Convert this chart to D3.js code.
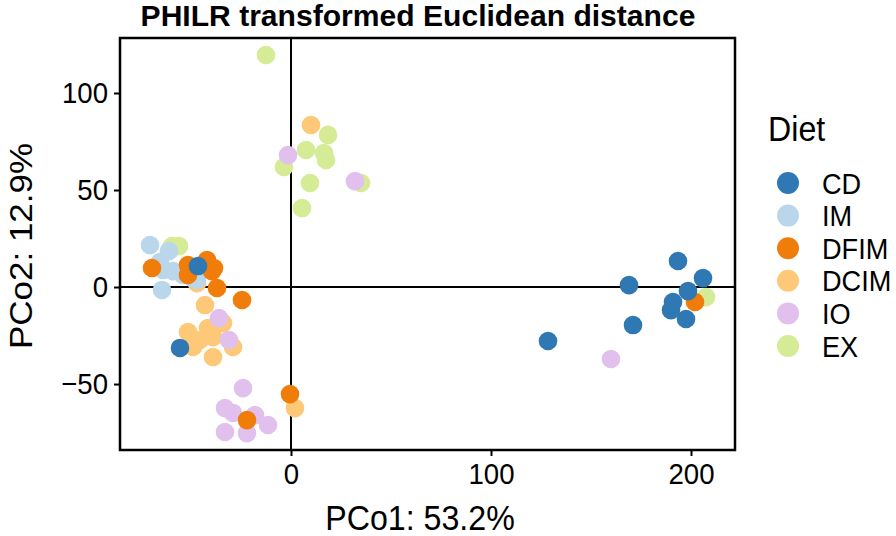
<!DOCTYPE html>
<meta charset="utf-8">
<script src="https://d3js.org/d3.v7.min.js"></script>
<style>
  body { margin: 0; background: white; }
  text { font-family: "Liberation Sans", Arial, sans-serif; fill: black; }
</style>
<div id="chart"></div>
<script>
  // diet groups and their colours
  const groups = ["CD", "IM", "DFIM", "DCIM", "IO", "EX"];
  const colors = ["#2f78b3", "#bad6ea", "#f07c0a", "#fdc877", "#e1c0ee", "#d6eb95"];

  // PCo1 / PCo2 coordinates, one list per group
  const cdPts = [[-46.5, 10.8], [-55.5, -31.4], [193.5, 13.4], [206, 4.6], [169, 1.0], [198.5, -2.1],
    [191, -7.7], [190, -11.9], [197.5, -16.5], [171, -19.6], [128.5, -27.8]];
  const imPts = [[-70.5, 21.6], [-61, 18.6], [-65.5, 12.9], [-64, 8.8], [-59, 8.2], [-64.5, -1.5],
    [-54, 6.2], [-49, 4.6], [-47, 3.6]];
  const dfimPts = [[-69.5, 9.8], [-51.5, 11.3], [-42, 13.9], [-39.5, 8.2], [-51.5, 6.2], [-38.5, 9.8],
    [-37, -0.5], [-24.5, -6.7], [-0.5, -55.2], [-22, -68.6], [202, -7.7]];
  const dcimPts = [[-43, -9.3], [-34, -18.6], [-51.5, -23.2], [-41.5, -21.1], [-45.5, -27.3], [-49, -30.9],
    [-39, -25.8], [-29, -30.9], [-39, -36.1], [2, -62.4], [10, 83.5], [-47, 2]];
  const ioPts = [[-36, -16.0], [-31, -27.3], [-24, -52.1], [-33, -62.4], [-29, -64.9], [-18, -66],
    [-11.5, -71.1], [-33, -74.7], [-22, -75.3], [-1.5, 68], [32, 54.6], [160, -37.1]];
  const exPts = [[-59.5, 21.1], [-56, 21.1], [-12.5, 119.6], [18.5, 78.4], [7.5, 70.6], [16.5, 69.1],
    [17.5, 65.5], [-3.5, 61.9], [9.5, 53.6], [35, 53.6], [5.5, 40.7], [207.5, -5.2]];

  const xTicks = [0, 100, 200];
  const yTicks = [-50, 0, 50, 100];

  const title = "PHILR transformed Euclidean distance";
  const xTitle = "PCo1: 53.2%";
  const yTitle = "PCo2: 12.9%";

  const width = 896, height = 536;
  const pLeft = 120, pRight = 735, pTop = 38, pBottom = 450;
  const sq = 0.92; // the picture's text is a little narrower than it is tall

  const svg = d3.select("#chart").append("svg")
    .attr("width", width)
    .attr("height", height);

  const x = d3.scaleLinear().domain([-85.5, 222]).range([pLeft, pRight]);
  const y = d3.scaleLinear().domain([-84, 128.35]).range([pBottom, pTop]);
  const color = d3.scaleOrdinal().domain(groups).range(colors);

  // zero lines
  svg.append("line")
    .attr("x1", x(0)).attr("x2", x(0)).attr("y1", pTop).attr("y2", pBottom)
    .attr("stroke", "black").attr("stroke-width", 2);
  svg.append("line")
    .attr("x1", pLeft).attr("x2", pRight).attr("y1", y(0)).attr("y2", y(0))
    .attr("stroke", "black").attr("stroke-width", 2);

  // points, drawn group by group
  const drawOrder = [["EX", exPts], ["DCIM", dcimPts], ["IO", ioPts], ["IM", imPts], ["DFIM", dfimPts], ["CD", cdPts]];
  const points = [];
  drawOrder.forEach(([g, pts]) => pts.forEach(p => points.push({ group: g, x: p[0], y: p[1] })));

  svg.append("g")
    .selectAll("circle")
    .data(points)
    .join("circle")
    .attr("cx", d => x(d.x))
    .attr("cy", d => y(d.y))
    .attr("r", 9.3)
    .attr("fill", d => color(d.group));

  // axes
  const xAxis = svg.append("g")
    .attr("transform", `translate(0,${pBottom})`)
    .call(d3.axisBottom(x).tickValues(xTicks).tickSize(6).tickPadding(6.5).tickFormat(d3.format("d")));
  const yAxis = svg.append("g")
    .attr("transform", `translate(${pLeft},0)`)
    .call(d3.axisLeft(y).tickValues(yTicks).tickSize(6).tickPadding(7).tickFormat(d => d < 0 ? "\u2212" + Math.abs(d) : d));
  [xAxis, yAxis].forEach(a => {
    a.select(".domain").remove();
    a.selectAll(".tick line").attr("stroke", "black").attr("stroke-width", 2);
    a.selectAll(".tick text")
      .style("font-size", "30px")
      .style("font-family", "'Liberation Sans', Arial, sans-serif")
      .attr("transform", `scale(${sq},1)`);
  });
  xAxis.selectAll(".tick text").attr("x", 0);

  // panel frame
  svg.append("rect")
    .attr("x", pLeft).attr("y", pTop)
    .attr("width", pRight - pLeft).attr("height", pBottom - pTop)
    .attr("fill", "none").attr("stroke", "black").attr("stroke-width", 2.5);

  // titles
  svg.append("text")
    .attr("transform", "translate(418,25.5) scale(1.02,1)")
    .attr("text-anchor", "middle")
    .style("font-size", "29.5px").style("font-weight", "bold")
    .text(title);
  svg.append("text")
    .attr("transform", `translate(420,529.5) scale(${sq},1)`)
    .attr("text-anchor", "middle")
    .style("font-size", "35px")
    .text(xTitle);
  svg.append("text")
    .attr("transform", `translate(32,246) rotate(-90) scale(1,${sq})`)
    .attr("text-anchor", "middle")
    .style("font-size", "35px")
    .text(yTitle);

  // legend
  const legend = svg.append("g").attr("transform", "translate(768,0)");
  legend.append("text")
    .attr("transform", `translate(0,141) scale(${sq},1)`)
    .style("font-size", "35px")
    .text("Diet");
  const item = legend.selectAll("g.item")
    .data(groups)
    .join("g")
    .attr("class", "item")
    .attr("transform", (d, i) => `translate(0,${183 + i * 32.6})`);
  item.append("circle")
    .attr("cx", 20).attr("cy", 0).attr("r", 11)
    .attr("fill", d => color(d));
  item.append("text")
    .attr("transform", `translate(54,10.5) scale(${sq},1)`)
    .style("font-size", "29.5px")
    .text(d => d);
</script>
